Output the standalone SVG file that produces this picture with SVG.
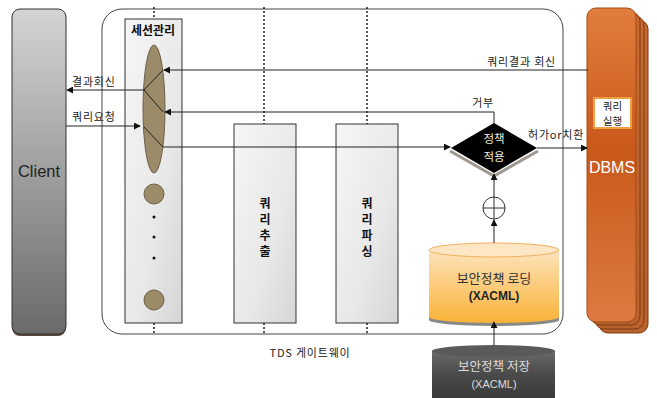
<svg xmlns="http://www.w3.org/2000/svg" width="657" height="398" viewBox="0 0 657 398">
<defs>
<linearGradient id="gClient" x1="0" y1="0" x2="0" y2="1"><stop offset="0" stop-color="#d4d4d4"/><stop offset="1" stop-color="#6a6a6a"/></linearGradient>
<linearGradient id="gCol" x1="0" y1="0" x2="1" y2="1"><stop offset="0" stop-color="#f6f6f6"/><stop offset="0.6" stop-color="#e8e8e8"/><stop offset="1" stop-color="#d6d6d6"/></linearGradient>
<linearGradient id="gDbms" x1="0" y1="0" x2="0" y2="1"><stop offset="0" stop-color="#e27d3d"/><stop offset="0.45" stop-color="#c9591a"/><stop offset="1" stop-color="#dd7a42"/></linearGradient>
<linearGradient id="gDbmsB" x1="0" y1="0" x2="0" y2="1"><stop offset="0" stop-color="#c86a30"/><stop offset="1" stop-color="#b9622c"/></linearGradient>
<linearGradient id="gCyl" x1="0" y1="0" x2="0" y2="1"><stop offset="0" stop-color="#fde3bb"/><stop offset="1" stop-color="#fbb238"/></linearGradient>
<linearGradient id="gStore" x1="0" y1="0" x2="0" y2="1"><stop offset="0" stop-color="#6a6a6a"/><stop offset="0.5" stop-color="#4a4a4a"/><stop offset="1" stop-color="#3a3a3a"/></linearGradient>
<marker id="ah" viewBox="0 0 8 8" refX="7" refY="4" markerWidth="7" markerHeight="7" markerUnits="userSpaceOnUse" orient="auto"><path d="M0,0 L8,4 L0,8 z" fill="#111"/></marker>
</defs>
<style>
.ln{stroke:#222;stroke-width:1;fill:none}
.dot{stroke:#222;stroke-width:1.5;stroke-dasharray:2,2;fill:none}
.lbl{font-family:"Noto Sans CJK KR","Liberation Sans",sans-serif;font-size:11px;letter-spacing:0.8px;fill:#222}
.col{fill:url(#gCol);stroke:#333;stroke-width:1}
.vt{font-family:"Noto Sans CJK KR",sans-serif;font-size:12px;font-weight:bold;fill:#111;text-anchor:middle}
.bead{fill:#9b8b68;stroke:#6e6048;stroke-width:1}
</style>

<g id="gateway">
<rect x="102" y="9" width="461" height="325" rx="20" fill="#fff" stroke="#444" stroke-width="1"/>
<text x="310" y="357" class="lbl" text-anchor="middle" font-size="13" letter-spacing="1.5">TDS 게이트웨이</text>
</g>

<g id="client">
<rect x="12" y="11" width="54" height="325" rx="8" fill="#5a4a40"/>
<rect x="12" y="9" width="54" height="325" rx="8" fill="url(#gClient)" stroke="#333" stroke-width="1"/>
<text x="39" y="177" font-family="Liberation Sans,sans-serif" font-size="16.5" fill="#222" text-anchor="middle">Client</text>
</g>

<g id="session">
<rect x="125" y="19" width="57" height="304" class="col"/>
<text x="153" y="35" class="vt">세션관리</text>
<ellipse cx="154" cy="109" rx="11" ry="64" class="bead"/>
<circle cx="154" cy="194" r="10" class="bead"/>
<circle cx="154" cy="217" r="1.5" fill="#111"/>
<circle cx="154" cy="237" r="1.5" fill="#111"/>
<circle cx="154" cy="258" r="1.5" fill="#111"/>
<circle cx="154" cy="300" r="10" class="bead"/>
</g>

<g id="extract">
<rect x="234" y="124" width="62" height="199" class="col"/>
<text x="265" y="208" class="vt">쿼</text>
<text x="265" y="224" class="vt">리</text>
<text x="265" y="240" class="vt">추</text>
<text x="265" y="256" class="vt">출</text>
</g>

<g id="parse">
<rect x="336" y="124" width="62" height="199" class="col"/>
<text x="367" y="208" class="vt">쿼</text>
<text x="367" y="224" class="vt">리</text>
<text x="367" y="240" class="vt">파</text>
<text x="367" y="256" class="vt">싱</text>
</g>

<g id="dbms">
<rect x="599" y="20" width="49" height="313" rx="9" fill="url(#gDbmsB)" stroke="#7a3a10" stroke-width="1"/>
<rect x="595" y="16" width="49" height="313" rx="9" fill="url(#gDbmsB)" stroke="#7a3a10" stroke-width="1"/>
<rect x="591" y="12" width="49" height="313" rx="9" fill="url(#gDbmsB)" stroke="#7a3a10" stroke-width="1"/>
<rect x="587" y="8" width="49" height="314" rx="9" fill="url(#gDbms)" stroke="#a04a14" stroke-width="1"/>
<rect x="594" y="98" width="37" height="30" fill="#fff" stroke="#f0a040" stroke-width="2"/>
<text x="612.5" y="110" font-family="Noto Sans CJK KR,sans-serif" font-size="10.5" fill="#222" text-anchor="middle">쿼리</text>
<text x="612.5" y="125" font-family="Noto Sans CJK KR,sans-serif" font-size="10.5" fill="#222" text-anchor="middle">실행</text>
<text x="612" y="173" font-family="Liberation Sans,sans-serif" font-size="16" fill="#fff" text-anchor="middle">DBMS</text>
</g>

<g id="policy">
<path d="M450,151 L494,176 L538,151" fill="none" stroke="#a09890" stroke-width="3"/>
<path d="M494,123 L537,148 L494,173 L451,148 z" fill="#000"/>
<text x="494" y="143" text-anchor="middle" font-family="Noto Sans CJK KR,sans-serif" font-size="11.5" fill="#f4ecd8">정책</text>
<text x="494" y="161" text-anchor="middle" font-family="Noto Sans CJK KR,sans-serif" font-size="11.5" fill="#f4ecd8">적용</text>
</g>

<g id="combine">
<circle cx="494" cy="208" r="11" fill="#fff" stroke="#333" stroke-width="1"/>
<path d="M483,208 H505 M494,197 V219" stroke="#333" stroke-width="1"/>
</g>

<g id="loading">
<path d="M429,250 V320 A65,6 0 0 0 559,320 V250" fill="#888"/>
<path d="M429,250 V317 A65,6 0 0 0 559,317 V250 z" fill="url(#gCyl)"/>
<ellipse cx="494" cy="250" rx="65" ry="7" fill="#fde6c4" stroke="#f0b060" stroke-width="1"/>
<text x="494" y="283" text-anchor="middle" font-family="Noto Sans CJK KR,sans-serif" font-size="13" fill="#333">보안정책 로딩</text>
<text x="494" y="300" text-anchor="middle" font-family="Liberation Sans,sans-serif" font-size="12" font-weight="bold" fill="#222">(XACML)</text>
</g>

<g id="storage">
<path d="M432,351 V398 H555 V351 z" fill="url(#gStore)"/>
<ellipse cx="493.5" cy="351" rx="61.5" ry="6" fill="#5a5a5a"/>
<text x="494" y="371" text-anchor="middle" font-family="Noto Sans CJK KR,sans-serif" font-size="12.5" fill="#ddd">보안정책 저장</text>
<text x="494" y="388" text-anchor="middle" font-family="Liberation Sans,sans-serif" font-size="11" fill="#ddd">(XACML)</text>
</g>

<g id="connectors">
<path class="dot" d="M154,7 V19 M154,323 V333"/>
<path class="dot" d="M264,7 V124 M264,323 V333"/>
<path class="dot" d="M367,7 V124 M367,323 V333"/>
<path class="ln" d="M588,70 H164" marker-end="url(#ah)"/>
<text x="556" y="66" class="lbl" text-anchor="end">쿼리결과 회신</text>
<path class="ln" d="M494,123 V112 H165" marker-end="url(#ah)"/>
<text x="494" y="107" class="lbl" text-anchor="end">거부</text>
<path class="ln" d="M163,70 L144,90 L163,112"/>
<path class="ln" d="M144,90 H67" marker-end="url(#ah)"/>
<text x="72" y="86" class="lbl">결과회신</text>
<path class="ln" d="M66,126 H140" marker-end="url(#ah)"/>
<text x="72" y="121" class="lbl">쿼리요청</text>
<path class="ln" d="M144,127 L163,147 H450" marker-end="url(#ah)"/>
<path class="ln" d="M537,148 H587" marker-end="url(#ah)"/>
<text x="528" y="139" class="lbl">허가or치환</text>
<path class="ln" d="M494,243 V220" marker-end="url(#ah)"/>
<path class="ln" d="M494,197 V174" marker-end="url(#ah)"/>
<path class="ln" d="M494,345 V322" marker-end="url(#ah)"/>
</g>
</svg>
